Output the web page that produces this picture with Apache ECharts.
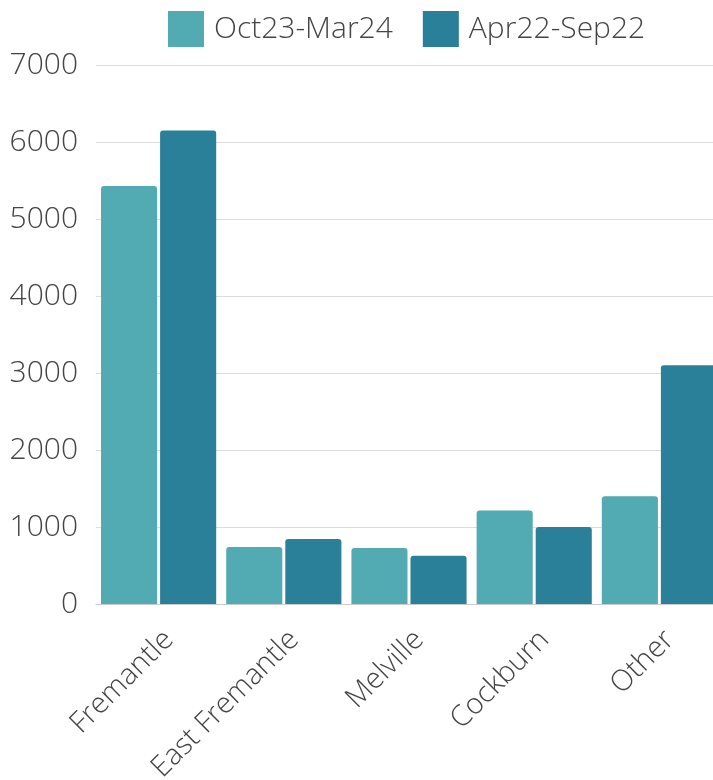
<!DOCTYPE html>
<html>
<head>
<meta charset="utf-8">
<script src="https://cdn.jsdelivr.net/npm/echarts@6/dist/echarts.min.js"></script>
<style>html,body{margin:0;padding:0;background:#fff;overflow:hidden}#c{width:713px;height:780px}</style>
</head>
<body>
<div id="c"></div>
<script>
const categories = ['Fremantle', 'East Fremantle', 'Melville', 'Cockburn', 'Other'];
const seriesNames = ['Oct23-Mar24', 'Apr22-Sep22'];
const oct23Mar24 = [5430, 740, 727, 1215, 1400];
const apr22Sep22 = [6150, 845, 627, 1000, 3100];
const yTicks = [0, 1000, 2000, 3000, 4000, 5000, 6000, 7000];

const FONT = '"Open Sans", sans-serif';
const chart = echarts.init(document.getElementById('c'));
chart.setOption({
  animation: false,
  color: ['#52abb3', '#2b8099'],
  legend: {
    top: 6, left: 163,
    itemWidth: 36, itemHeight: 36, itemGap: 30,
    icon: 'rect',
    textStyle: { fontFamily: FONT, fontWeight: 300, fontSize: 30, color: '#444', padding: [0, 0, 0, 5] },
    data: seriesNames
  },
  grid: { left: 96, width: 626, top: 65, bottom: 176, containLabel: false, outerBoundsMode: 'none' },
  xAxis: {
    type: 'category',
    data: categories,
    axisTick: { show: false },
    axisLine: { lineStyle: { color: '#cccccc', width: 1 } },
    axisLabel: { rotate: 45, margin: 21, verticalAlign: 'top', fontFamily: FONT, fontWeight: 300, fontSize: 29, color: '#444', interval: 0 }
  },
  yAxis: {
    type: 'value',
    min: yTicks[0], max: yTicks[yTicks.length - 1], interval: 1000,
    axisLine: { show: false },
    axisTick: { show: false },
    splitLine: { lineStyle: { color: '#dddddd', width: 1 } },
    axisLabel: { margin: 18, fontFamily: FONT, fontWeight: 300, fontSize: 30, color: '#444', formatter: v => String(v) }
  },
  series: [
    { name: seriesNames[0], type: 'bar', data: oct23Mar24, barGap: '5.3%', barCategoryGap: '8%', itemStyle: { borderRadius: [3, 3, 0, 0] } },
    { name: seriesNames[1], type: 'bar', data: apr22Sep22, barGap: '5.3%', barCategoryGap: '8%', itemStyle: { borderRadius: [3, 3, 0, 0] } }
  ]
});
</script>
</body>
</html>
